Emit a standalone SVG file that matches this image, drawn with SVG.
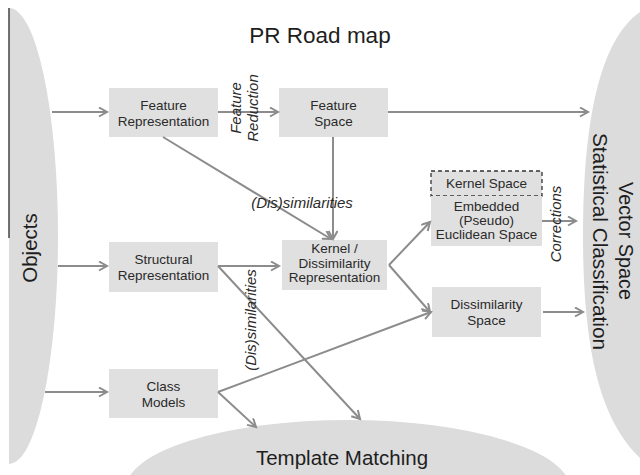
<svg xmlns="http://www.w3.org/2000/svg" width="640" height="475" viewBox="0 0 640 475">
<defs>
<marker id="ah" markerUnits="userSpaceOnUse" markerWidth="12" markerHeight="12" refX="9" refY="5" orient="auto">
<path d="M1,0.5 L9,5 L1,9.5" fill="none" stroke="#8c8c8c" stroke-width="2"/>
</marker>
<clipPath id="clipObj"><rect x="9" y="0" width="100" height="475"/></clipPath>
</defs>
<style>
.big{fill:#dcdcdc}
.box{fill:#e0e0e0}
.t{font-family:"Liberation Sans",Arial,sans-serif;font-size:13.5px;fill:#2a2a2a;text-anchor:middle}
.it{font-family:"Liberation Sans",Arial,sans-serif;font-size:15px;font-style:italic;fill:#2a2a2a;text-anchor:middle}
.lg{font-family:"Liberation Sans",Arial,sans-serif;fill:#1e1e1e;text-anchor:middle}
.c{fill:none;stroke:#8c8c8c;stroke-width:2;marker-end:url(#ah)}
</style>
<rect width="640" height="475" fill="#ffffff"/>
<text class="lg" x="320" y="43" font-size="22.5">PR Road map</text>

<g id="objects">
<ellipse class="big" cx="9" cy="236" rx="49" ry="228" clip-path="url(#clipObj)"/>
<line x1="9" y1="8" x2="9" y2="238" stroke="#444" stroke-width="1.5"/>
<text class="lg" font-size="20.5" transform="translate(37,248) rotate(-90)">Objects</text>
</g>

<g id="vector-space">
<path class="big" d="M640,12 C600,40 583,120 583,235 C583,350 600,420 640,458 Z"/>
<text class="lg" font-size="20" transform="translate(619,241) rotate(90)" textLength="118" lengthAdjust="spacingAndGlyphs">Vector Space</text>
<text class="lg" font-size="20" transform="translate(593,241.5) rotate(90)" textLength="217" lengthAdjust="spacingAndGlyphs">Statistical Classification</text>
</g>

<g id="template-matching">
<ellipse class="big" cx="348" cy="490" rx="223" ry="70"/>
<text class="lg" x="342" y="465" font-size="20.5">Template Matching</text>
</g>

<g id="feature-representation">
<rect class="box" x="109" y="88" width="109" height="49"/>
<text class="t" x="163.5" y="110">Feature</text>
<text class="t" x="163.5" y="126">Representation</text>
</g>

<g id="feature-space">
<rect class="box" x="279" y="88" width="109" height="49"/>
<text class="t" x="333.5" y="110">Feature</text>
<text class="t" x="333.5" y="126">Space</text>
</g>

<g id="structural-representation">
<rect class="box" x="109" y="242" width="109" height="50"/>
<text class="t" x="163.5" y="264">Structural</text>
<text class="t" x="163.5" y="280">Representation</text>
</g>

<g id="class-models">
<rect class="box" x="109" y="369" width="109" height="49"/>
<text class="t" x="163.5" y="391">Class</text>
<text class="t" x="163.5" y="407">Models</text>
</g>

<g id="kernel-dissimilarity-representation">
<rect class="box" x="282" y="240" width="105" height="50"/>
<text class="t" x="334.5" y="253">Kernel /</text>
<text class="t" x="334.5" y="267.5">Dissimilarity</text>
<text class="t" x="334.5" y="282">Representation</text>
</g>

<g id="kernel-space">
<rect x="431" y="171" width="111" height="25" fill="#e0e0e0" stroke="#333" stroke-width="1.3" stroke-dasharray="4,3"/>
<text class="t" x="486.5" y="188">Kernel Space</text>
</g>

<g id="embedded-euclidean-space">
<rect class="box" x="431" y="196" width="111" height="50"/>
<text class="t" x="486.5" y="211">Embedded</text>
<text class="t" x="486.5" y="225">(Pseudo)</text>
<text class="t" x="486.5" y="239">Euclidean Space</text>
</g>

<g id="dissimilarity-space">
<rect class="box" x="432" y="287" width="109" height="50"/>
<text class="t" x="486.5" y="309">Dissimilarity</text>
<text class="t" x="486.5" y="325">Space</text>
</g>

<g id="connectors">
<line class="c" x1="52" y1="112" x2="107" y2="112"/>
<line class="c" x1="58" y1="266" x2="107" y2="266"/>
<line class="c" x1="45" y1="392" x2="107" y2="392"/>
<line class="c" x1="218" y1="112" x2="278" y2="112"/>
<line class="c" x1="388" y1="112" x2="588" y2="112"/>
<line class="c" x1="333" y1="137" x2="333" y2="239"/>
<line class="c" x1="163" y1="137" x2="331" y2="239"/>
<line class="c" x1="218" y1="266" x2="279" y2="266"/>
<line class="c" x1="218" y1="266" x2="360" y2="419"/>
<line class="c" x1="218" y1="392" x2="431" y2="312"/>
<line class="c" x1="218" y1="392" x2="256" y2="427"/>
<line class="c" x1="389" y1="265" x2="430" y2="222"/>
<line class="c" x1="389" y1="265" x2="430" y2="312"/>
<line class="c" x1="542" y1="221" x2="576" y2="221"/>
<line class="c" x1="543" y1="312" x2="583" y2="312"/>
<text class="it" transform="translate(241,108) rotate(-90)">Feature</text>
<text class="it" transform="translate(258,108) rotate(-90)">Reduction</text>
<text class="it" x="302" y="208" font-size="15.5">(Dis)similarities</text>
<text class="it" font-size="15.5" transform="translate(256,320) rotate(-90)">(Dis)similarities</text>
<text class="it" transform="translate(561,224) rotate(-90)">Corrections</text>
</g>
</svg>
